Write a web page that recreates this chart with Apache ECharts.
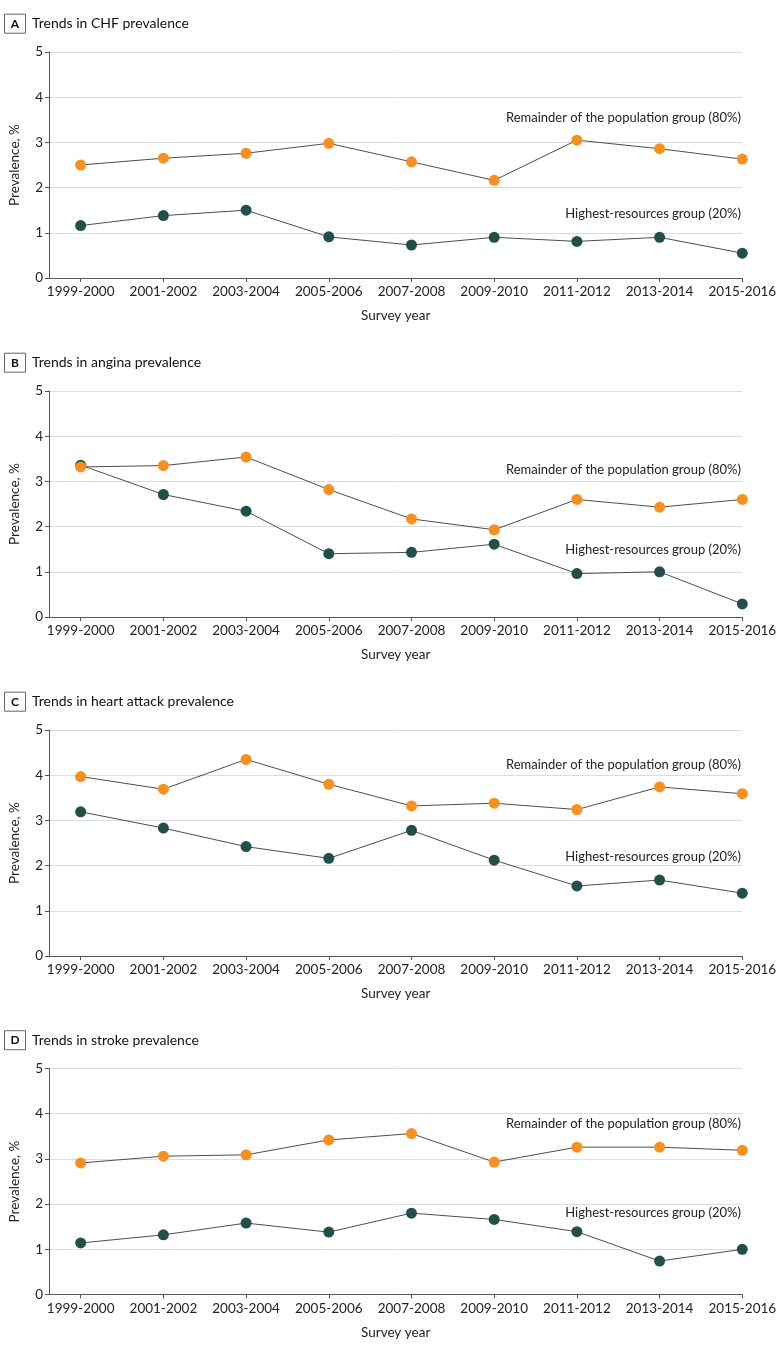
<!DOCTYPE html>
<html>
<head>
<meta charset="utf-8">
<script src="https://cdn.jsdelivr.net/npm/echarts@6/dist/echarts.min.js"></script>
<style>
html,body{margin:0;padding:0;background:#fff;}
#chart{width:780px;height:1349px;}
</style>
</head>
<body>
<div id="chart"></div>
<script>
// ---- Data ----
const years = ['1999-2000','2001-2002','2003-2004','2005-2006','2007-2008','2009-2010','2011-2012','2013-2014','2015-2016'];
const yTicks = [0,1,2,3,4,5];
const panelLetters = ['A','B','C','D'];
const panelTitles = ['Trends in CHF prevalence','Trends in angina prevalence','Trends in heart attack prevalence','Trends in stroke prevalence'];
const groupNames = ['Highest-resources group (20%)','Remainder of the population group (80%)'];

const chfHigh    = [1.16,1.38,1.50,0.91,0.73,0.90,0.81,0.90,0.55];
const chfRest    = [2.50,2.65,2.76,2.98,2.57,2.16,3.05,2.86,2.63];
const anginaHigh = [3.36,2.71,2.34,1.40,1.43,1.61,0.96,1.00,0.29];
const anginaRest = [3.32,3.35,3.54,2.82,2.17,1.93,2.60,2.43,2.60];
const heartHigh  = [3.19,2.83,2.42,2.16,2.78,2.12,1.55,1.68,1.39];
const heartRest  = [3.97,3.69,4.35,3.80,3.32,3.38,3.24,3.74,3.59];
const strokeHigh = [1.14,1.32,1.58,1.38,1.80,1.66,1.39,0.74,1.00];
const strokeRest = [2.91,3.06,3.09,3.42,3.56,2.93,3.26,3.26,3.19];

const highSets = [chfHigh, anginaHigh, heartHigh, strokeHigh];
const restSets = [chfRest, anginaRest, heartRest, strokeRest];

// ---- Layout / style ----
const gridTops = [52, 391, 730, 1068.5];
const gridHeight = 226;
const gridLeft = 42.7, gridRight = 37.7;
const restLabelY = [66, 79, 35, 55.5];    // offsets from grid top
const highLabelY = [162, 159, 126.5, 144.5];
const FONT = 'Lato';
const orange = '#F7901E', teal = '#234F4B', lineCol = '#4d4d4d', axisCol = '#555555';

const grids = [], xAxes = [], yAxes = [], series = [], graphics = [];
const idx = years.map((_, i) => i);

for (let p = 0; p < 4; p++) {
  grids.push({left: gridLeft, right: gridRight, top: gridTops[p], height: gridHeight});
  xAxes.push({
    type: 'value', gridIndex: p, min: -0.383, max: 8,
    name: 'Survey year', nameLocation: 'middle', nameGap: 31,
    nameTextStyle: {fontFamily: FONT, fontSize: 13.5, color: '#222'},
    axisLine: {show: true, onZero: false, lineStyle: {color: axisCol, width: 1}},
    axisTick: {show: true, length: 4, customValues: idx, lineStyle: {color: axisCol}},
    axisLabel: {customValues: idx, formatter: v => years[Math.round(v)], fontFamily: FONT, fontSize: 13.5, color: '#222', margin: 7},
    splitLine: {show: false}
  });
  yAxes.push({
    type: 'value', gridIndex: p, min: 0, max: 5, interval: 1,
    name: 'Prevalence, %', nameLocation: 'middle', nameGap: 27,
    nameTextStyle: {fontFamily: FONT, fontSize: 13.5, color: '#222'},
    axisLine: {show: true, onZero: false, lineStyle: {color: axisCol, width: 1}},
    axisTick: {show: true, length: 4, lineStyle: {color: axisCol}},
    axisLabel: {fontFamily: FONT, fontSize: 13.5, color: '#222', margin: 6},
    splitLine: {show: true, lineStyle: {color: '#dcdcdc', width: 1}}
  });
  series.push({
    type: 'line', name: groupNames[0], xAxisIndex: p, yAxisIndex: p,
    data: highSets[p].map((v, i) => [i, v]),
    symbol: 'circle', symbolSize: 11,
    itemStyle: {color: teal, borderWidth: 0},
    lineStyle: {color: lineCol, width: 1},
    emphasis: {disabled: true}, animation: false, z: 3
  });
  series.push({
    type: 'line', name: groupNames[1], xAxisIndex: p, yAxisIndex: p,
    data: restSets[p].map((v, i) => [i, v]),
    symbol: 'circle', symbolSize: 11,
    itemStyle: {color: orange, borderWidth: 0},
    lineStyle: {color: lineCol, width: 1},
    emphasis: {disabled: true}, animation: false, z: 4
  });
  const ty = gridTops[p] - 28.3;
  graphics.push({
    type: 'rect', shape: {x: 4.5, y: ty - 9.5, width: 21, height: 19},
    style: {fill: '#fff', stroke: '#666', lineWidth: 1}
  });
  graphics.push({
    type: 'text', x: 15, y: ty,
    style: {text: panelLetters[p], fontFamily: FONT, fontWeight: 'bold', fontSize: 12, fill: '#111', align: 'center', verticalAlign: 'middle'}
  });
  graphics.push({
    type: 'text', x: 32, y: ty,
    style: {text: panelTitles[p], fontFamily: FONT, fontSize: 14, fill: '#111', align: 'left', verticalAlign: 'middle'}
  });
  graphics.push({
    type: 'text', x: 741, y: gridTops[p] + restLabelY[p],
    style: {text: groupNames[1], fontFamily: FONT, fontSize: 13, fill: '#222', align: 'right', verticalAlign: 'middle'}
  });
  graphics.push({
    type: 'text', x: 741, y: gridTops[p] + highLabelY[p],
    style: {text: groupNames[0], fontFamily: FONT, fontSize: 13, fill: '#222', align: 'right', verticalAlign: 'middle'}
  });
}

const chart = echarts.init(document.getElementById('chart'), null, {renderer: 'canvas'});
chart.setOption({
  backgroundColor: '#fff',
  animation: false,
  grid: grids, xAxis: xAxes, yAxis: yAxes, series: series,
  graphic: graphics
});
</script>
</body>
</html>
